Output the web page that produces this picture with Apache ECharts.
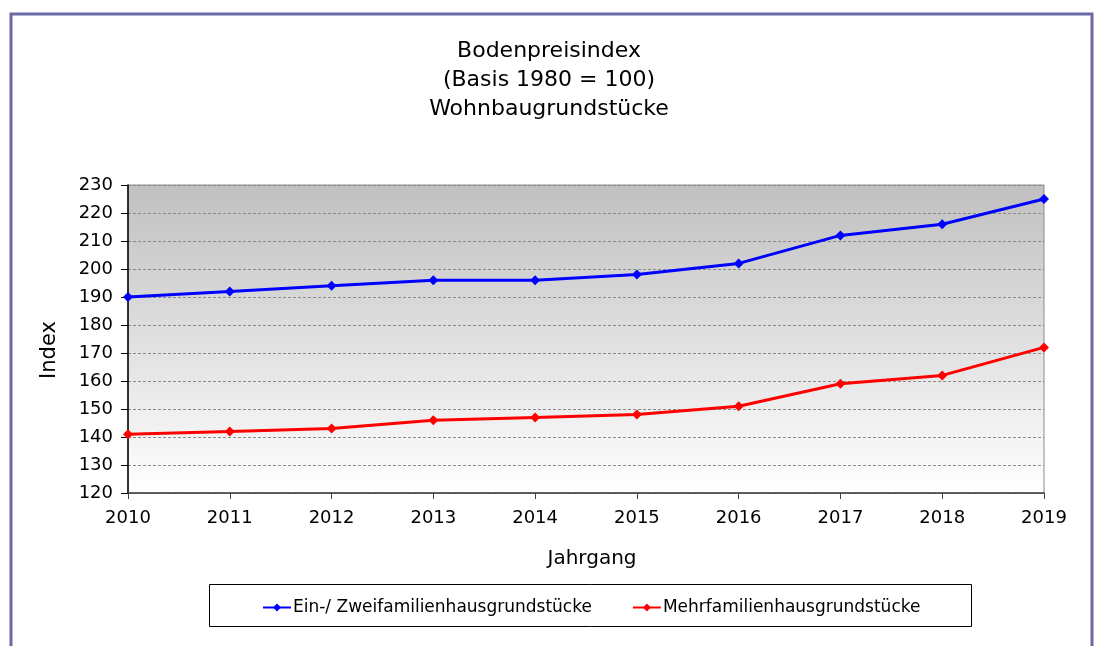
<!DOCTYPE html>
<html>
<head>
<meta charset="utf-8">
<script src="https://cdn.jsdelivr.net/npm/echarts@6/dist/echarts.min.js"></script>
<style>
html,body{margin:0;padding:0;background:#fff;}
#c{width:1098px;height:646px;}
</style>
</head>
<body>
<div id="c"></div>
<script>
const years = ['2010','2011','2012','2013','2014','2015','2016','2017','2018','2019'];
const einZwei = [190, 192, 194, 196, 196, 198, 202, 212, 216, 225];
const mehr = [141, 142, 143, 146, 147, 148, 151, 159, 162, 172];
const seriesNames = ['Ein-/ Zweifamilienhausgrundstücke', 'Mehrfamilienhausgrundstücke'];
const titleLines = ['Bodenpreisindex', '(Basis 1980 = 100)', 'Wohnbaugrundstücke'];

const chart = echarts.init(document.getElementById('c'), null, {renderer:'canvas'});
const font = 'DejaVu Sans, Liberation Sans, Arial, sans-serif';
chart.setOption({
  backgroundColor: '#fff',
  animation: false,
  title: {
    text: titleLines.join('\n'),
    left: 'center',
    top: 37,
    padding: [0, 0, 0, 8],
    textStyle: {fontFamily: font, fontSize: 22, fontWeight: 'normal', color: '#000', lineHeight: 29}
  },
  graphic: [{
    type: 'rect',
    shape: {x: 11, y: 14, width: 1081, height: 660},
    style: {fill: 'none', stroke: '#6a6aa6', lineWidth: 3},
    silent: true
  }, {
    type: 'rect',
    shape: {x: 209.5, y: 584.5, width: 762, height: 42},
    style: {fill: 'none', stroke: '#000', lineWidth: 1},
    silent: true
  }],
  legend: {
    data: seriesNames,
    top: 599,
    left: 262,
    padding: 0,
    itemGap: 40,
    itemWidth: 28,
    itemHeight: 10,
    textStyle: {fontFamily: font, fontSize: 17, color: '#000', padding: [0,0,0,-3]}
  },
  grid: {
    left: 128, right: 54, top: 185, bottom: 153,
    show: true,
    borderColor: '#8c8c8c',
    borderWidth: 1,
    backgroundColor: new echarts.graphic.LinearGradient(0, 0, 0, 1, [
      {offset: 0, color: '#c0c0c0'},
      {offset: 1, color: '#ffffff'}
    ])
  },
  xAxis: {
    type: 'category',
    data: years,
    boundaryGap: false,
    name: 'Jahrgang',
    nameLocation: 'middle',
    nameGap: 56,
    nameTextStyle: {fontFamily: font, fontSize: 20, color: '#000', padding: [0, 0, 0, 12]},
    axisLine: {lineStyle: {color: '#404040', width: 1.5}},
    axisTick: {show: true, length: 6, lineStyle: {color: '#404040'}},
    axisLabel: {fontFamily: font, fontSize: 18, color: '#000', margin: 16},
    splitLine: {show: false}
  },
  yAxis: {
    type: 'value',
    min: 120, max: 230, interval: 10,
    name: 'Index',
    nameLocation: 'middle',
    nameGap: 68,
    nameTextStyle: {fontFamily: font, fontSize: 21, color: '#000', padding: [0, 22, 0, 0]},
    axisLine: {show: true, lineStyle: {color: '#000', width: 1.5}},
    axisTick: {show: true, length: 7, lineStyle: {color: '#000'}},
    axisLabel: {fontFamily: font, fontSize: 18, color: '#000', margin: 15},
    splitLine: {show: true, lineStyle: {color: '#8a8a8a', type: [3, 2], width: 1}}
  },
  series: [{
    name: seriesNames[0],
    type: 'line',
    data: einZwei,
    symbol: 'diamond',
    symbolSize: 10,
    lineStyle: {color: '#0000ff', width: 3},
    itemStyle: {color: '#0000ff'}
  }, {
    name: seriesNames[1],
    type: 'line',
    data: mehr,
    symbol: 'diamond',
    symbolSize: 10,
    lineStyle: {color: '#ff0000', width: 3},
    itemStyle: {color: '#ff0000'}
  }]
});
</script>
</body>
</html>
